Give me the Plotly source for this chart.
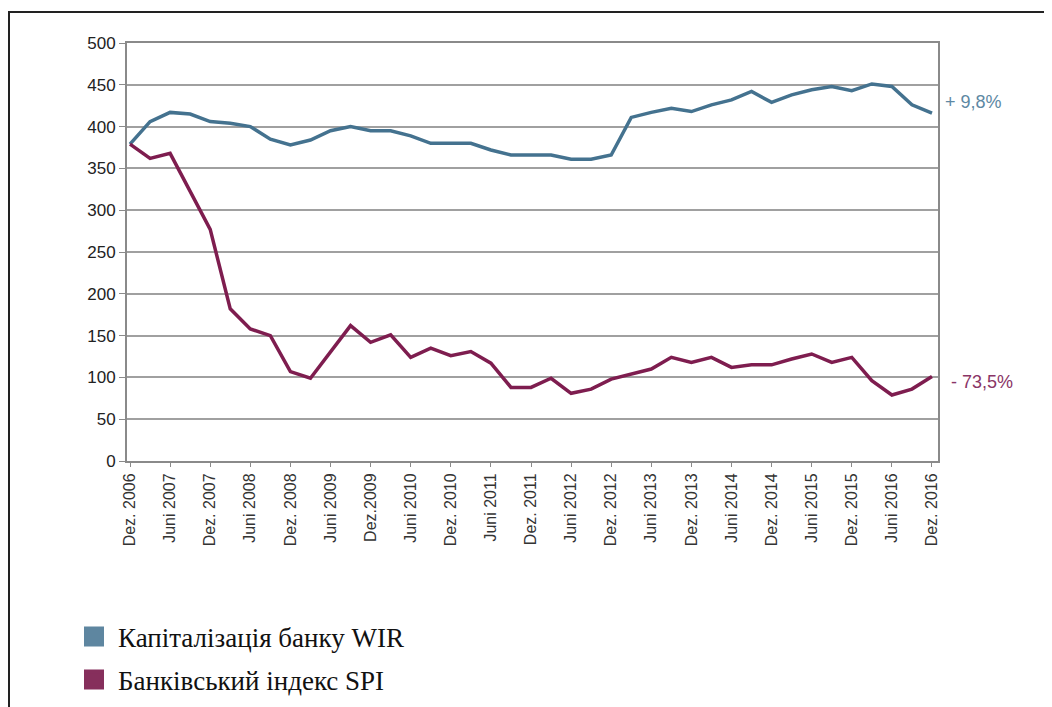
import plotly.graph_objects as go

# Quarterly observations, Dez. 2006 .. Dez. 2016 (41 points)
wir_capital = [379, 406, 417, 415, 406, 404, 400, 385, 378, 384,
               395, 400, 395, 395, 389, 380, 380, 380, 372, 366,
               366, 366, 361, 361, 366, 411, 417, 422, 418, 426,
               432, 442, 429, 438, 444, 448, 443, 451, 448, 426, 416]
spi_bank = [379, 362, 368, 322, 277, 182, 158, 150, 107, 99,
            130, 162, 142, 151, 124, 135, 126, 131, 117, 88,
            88, 99, 81, 86, 98, 104, 110, 124, 118, 124,
            112, 115, 115, 122, 128, 118, 124, 96, 79, 86, 101]
tick_labels = ["Dez. 2006", "Juni 2007", "Dez. 2007", "Juni 2008", "Dez. 2008",
               "Juni 2009", "Dez.2009", "Juni 2010", "Dez. 2010", "Juni 2011",
               "Dez. 2011", "Juni 2012", "Dez. 2012", "Juni 2013", "Dez. 2013",
               "Juni 2014", "Dez. 2014", "Juni 2015", "Dez. 2015", "Juni 2016",
               "Dez. 2016"]
series_names = ["Капіталізація банку WIR", "Банківський індекс SPI"]
end_labels = ["+ 9,8%", "- 73,5%"]

blue = "#44728f"
purple = "#7e1d4f"
blue_leg = "#5e86a0"
purple_leg = "#862f5c"

x = list(range(len(wir_capital)))
tick_pos = list(range(0, len(wir_capital), 2))

fig = go.Figure()
fig.add_trace(go.Scatter(x=x, y=wir_capital, mode="lines", showlegend=False,
                         line=dict(color=blue, width=3.5)))
fig.add_trace(go.Scatter(x=x, y=spi_bank, mode="lines", showlegend=False,
                         line=dict(color=purple, width=3.5)))
# legend swatches (squares)
fig.add_trace(go.Scatter(x=[None], y=[None], mode="markers", name=series_names[0],
                         marker=dict(symbol="square", size=16, color=blue_leg,
                                     line=dict(color=blue_leg, width=4)),
                         legend="legend"))
fig.add_trace(go.Scatter(x=[None], y=[None], mode="markers", name=series_names[1],
                         marker=dict(symbol="square", size=16, color=purple_leg,
                                     line=dict(color=purple_leg, width=4)),
                         legend="legend2"))

OFF = 8  # page body margin
W, H = 1052 - OFF, 707 - OFF
L, T = 127 - OFF, 43 - OFF
R = W - (938 - OFF)
B = H - (461 - OFF)
pw, ph = W - L - R, H - T - B

def px(xs):
    return (xs - OFF - L) / pw

def py(ys):
    return (H - B - (ys - OFF)) / ph

leg_font = dict(family="Liberation Serif", size=27, color="#111")
fig.update_layout(
    width=W, height=H,
    margin=dict(l=L, r=R, t=T, b=B, autoexpand=False),
    paper_bgcolor="white", plot_bgcolor="white",
    legend=dict(x=px(70), y=py(637), xanchor="left", yanchor="middle",
                font=leg_font, bgcolor="rgba(0,0,0,0)", itemwidth=38),
    legend2=dict(x=px(70), y=py(680), xanchor="left", yanchor="middle",
                 font=leg_font, bgcolor="rgba(0,0,0,0)", itemwidth=38),
    xaxis=dict(range=[-0.15, 40.3], tickmode="array", tickvals=tick_pos,
               ticktext=tick_labels, tickangle=-90, showgrid=False,
               showline=True, linecolor="#8a8a8a", linewidth=2, mirror=True,
               ticks="outside", ticklen=4, tickcolor="#8a8a8a",
               tickfont=dict(family="Liberation Sans", size=16, color="#333"),
               zeroline=False, automargin=False),
    yaxis=dict(range=[0, 500], tickmode="linear", tick0=0, dtick=50,
               showgrid=True, gridcolor="#a0a0a0", gridwidth=1.5,
               showline=True, linecolor="#8a8a8a", linewidth=2, mirror=True,
               ticks="outside", ticklen=6, tickcolor="#8a8a8a",
               tickfont=dict(family="Liberation Sans", size=17, color="#222"),
               zeroline=False, automargin=False),
    annotations=[
        dict(x=1, y=wir_capital[-1] + 13, xref="paper", yref="y", xanchor="left",
             xshift=5, text=end_labels[0], showarrow=False,
             font=dict(family="Liberation Sans", size=18, color="#5d88a3")),
        dict(x=1, y=spi_bank[-1] - 6, xref="paper", yref="y", xanchor="left",
             xshift=11, text=end_labels[1], showarrow=False,
             font=dict(family="Liberation Sans", size=18, color="#8a3566")),
    ],
    shapes=[dict(type="rect", xref="paper", yref="paper",
                 x0=px(OFF + 1), x1=px(1048), y0=py(720), y1=py(12),
                 line=dict(color="#222", width=2), layer="below")],
)

fig.write_html("out.html")
